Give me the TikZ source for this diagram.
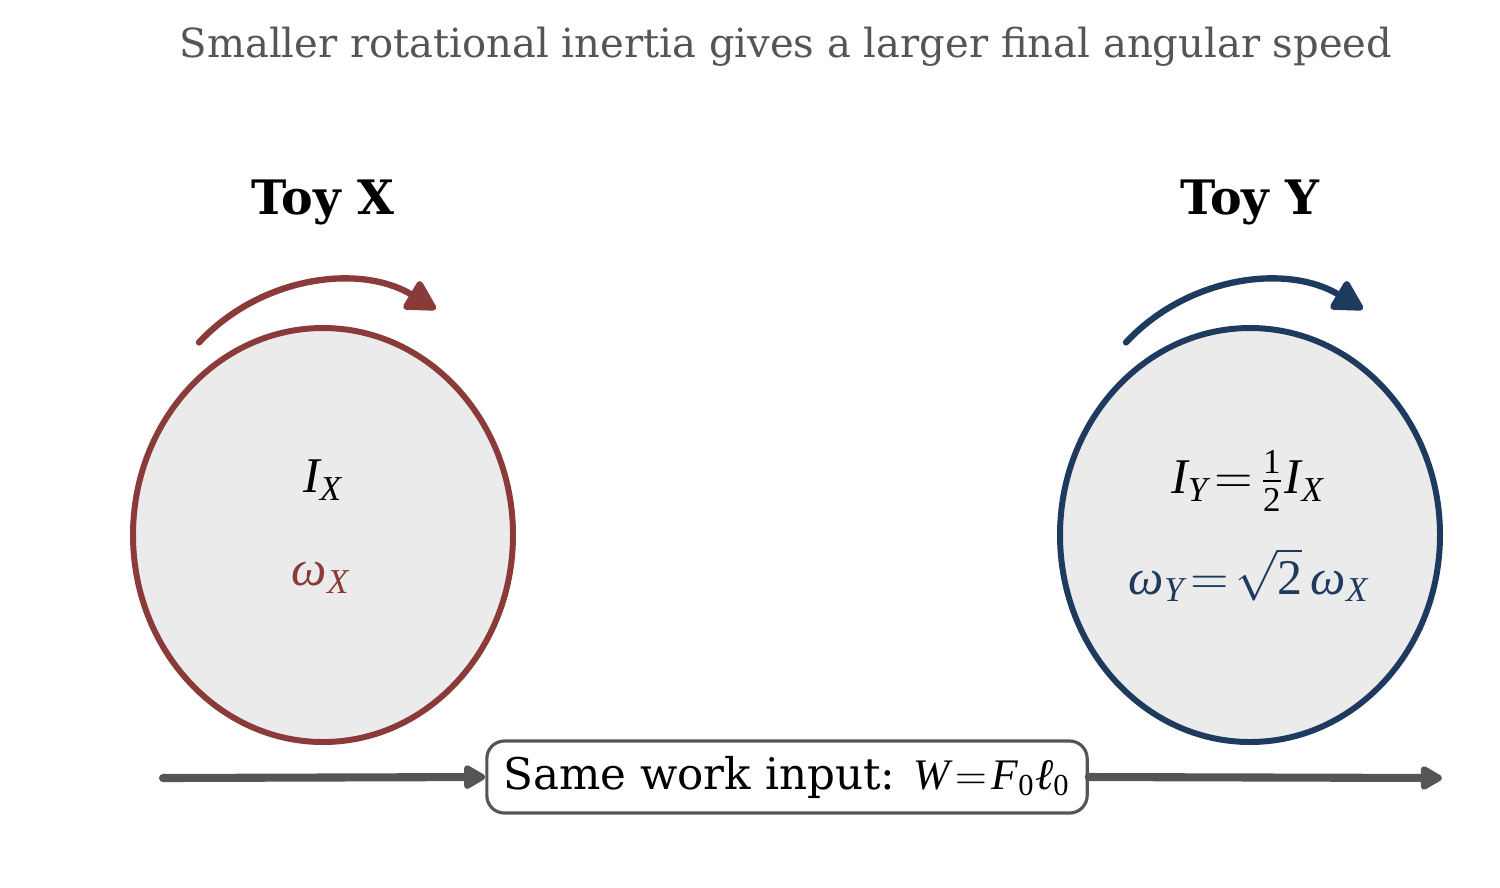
\documentclass[tikz,border=0pt]{standalone}
\usepackage{amsmath}
\usepackage{fontspec}
\setmainfont{DejaVu Serif}
\newfontfamily\tms{Liberation Serif}
\newcommand\mi[1]{\text{\tms\itshape #1}}
\newcommand\mr[1]{\text{\tms #1}}
\usetikzlibrary{arrows.meta}
\definecolor{redx}{HTML}{8B3A3A}
\definecolor{bluey}{HTML}{1F3A5F}
\definecolor{fillc}{HTML}{EBEBEB}
\definecolor{grayc}{HTML}{555555}
\tikzset{
  disc/.style={line width=1.7pt, fill=fillc},
  spinarrow/.style={line width=1.8pt, line cap=round, -{Triangle[length=9.5pt,width=10pt,round]}},
  workarrow/.style={draw=grayc, line width=2.3pt, line cap=round, -{Triangle[length=7pt,width=7.5pt,round]}},
  title/.style={font=\fontsize{13.5}{16}\selectfont\bfseries},
  lab/.style={font=\fontsize{14.2}{16}\selectfont, inner sep=0pt},
}
\begin{document}
\begin{tikzpicture}[x=0.01cm,y=-0.01cm]
\useasboundingbox (0,0) rectangle (1500,887);
\node[text=grayc, font=\fontsize{11.4}{13}\selectfont] (ttl) at (786,47) {Smaller rotational inertia gives a larger final angular speed};
% Toy X
\node[title] (tx) at (323,202) {Toy X};
\draw[disc, draw=redx] (323,535) ellipse [x radius=190, y radius=207];
\node[lab] (ix) at (323,480) {$\mi{I}_{\mi{X}}$};
\node[lab, text=redx] (wx) at (321,578) {$\mi{ω}_{\mi{X}}$};
\coordinate (ax1) at (199,342.4);
\draw[spinarrow, draw=redx] (ax1) arc[start angle=-137, end angle=-59, radius=190];
% Toy Y
\node[title] (ty) at (1250,202) {Toy Y};
\draw[disc, draw=bluey] (1250,535) ellipse [x radius=190, y radius=207];
\node[lab] (iy) at (1248,481) {$\mi{I}_{\mi{Y}}\!=\!\frac{\mr{1}}{\mr{2}}\mi{I}_{\mi{X}}$};
\node[lab, text=bluey] (wy) at (1249,575) {$\mi{ω}_{\mi{Y}}\!=\!\sqrt{\mr{2}}\,\mi{ω}_{\mi{X}}$};
\coordinate (ay1) at (1126,342.4);
\draw[spinarrow, draw=bluey] (ay1) arc[start angle=-137, end angle=-59, radius=190];
% work input
\node[draw=grayc, line width=0.9pt, rounded corners=5pt, fill=white, minimum width=6cm, minimum height=0.72cm, inner sep=0pt, font=\fontsize{12.4}{15}\selectfont] (box) at (787,777) {Same work input: $\mi{W}\!=\!\mi{F}_{\mr{0}}\mi{ℓ}_{\mr{0}}$};
\coordinate (ws) at (163,778);
\coordinate (we) at (1442,778);
\draw[workarrow] (ws) -- (box.west);
\draw[workarrow] (box.east) -- (we);
\end{tikzpicture}
\end{document}
